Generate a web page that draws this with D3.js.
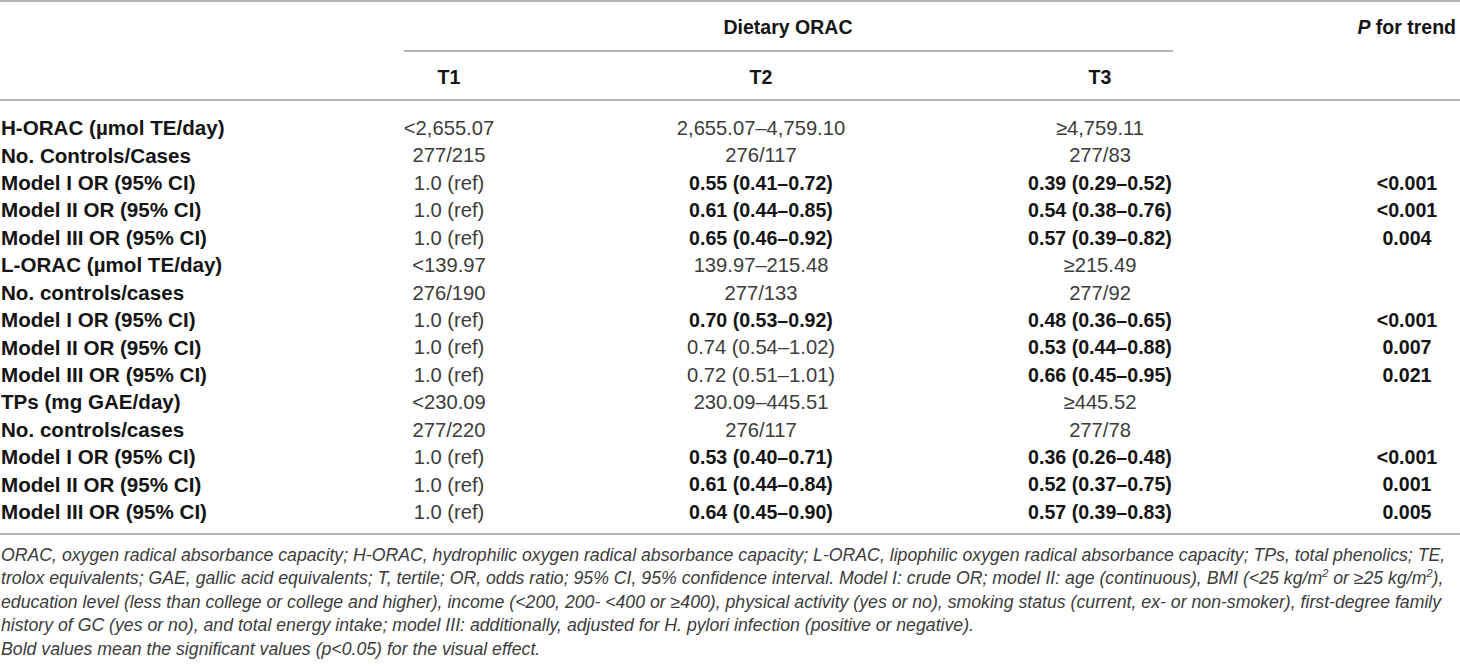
<!DOCTYPE html>
<html>
<head>
<meta charset="utf-8">
<script src="https://cdn.jsdelivr.net/npm/d3@7"></script>
<style>
  html, body { margin: 0; padding: 0; background: #fff; }
  svg text { font-family: "Liberation Sans", Arial, Helvetica, sans-serif; }
</style>
</head>
<body>
<svg id="tbl" width="1460" height="669"></svg>
<script>
// table content
var rowLabels = [
    "H-ORAC (\u00b5mol TE/day)", "No. Controls/Cases",
    "Model I OR (95% CI)", "Model II OR (95% CI)", "Model III OR (95% CI)",
    "L-ORAC (\u00b5mol TE/day)", "No. controls/cases",
    "Model I OR (95% CI)", "Model II OR (95% CI)", "Model III OR (95% CI)",
    "TPs (mg GAE/day)", "No. controls/cases",
    "Model I OR (95% CI)", "Model II OR (95% CI)", "Model III OR (95% CI)"
];
var t1Values = [
    "<2,655.07", "277/215", "1.0 (ref)", "1.0 (ref)", "1.0 (ref)",
    "<139.97", "276/190", "1.0 (ref)", "1.0 (ref)", "1.0 (ref)",
    "<230.09", "277/220", "1.0 (ref)", "1.0 (ref)", "1.0 (ref)"
];
var t2Values = [
    "2,655.07\u20134,759.10", "276/117", "0.55 (0.41\u20130.72)", "0.61 (0.44\u20130.85)", "0.65 (0.46\u20130.92)",
    "139.97\u2013215.48", "277/133", "0.70 (0.53\u20130.92)", "0.74 (0.54\u20131.02)", "0.72 (0.51\u20131.01)",
    "230.09\u2013445.51", "276/117", "0.53 (0.40\u20130.71)", "0.61 (0.44\u20130.84)", "0.64 (0.45\u20130.90)"
];
var t3Values = [
    "\u22654,759.11", "277/83", "0.39 (0.29\u20130.52)", "0.54 (0.38\u20130.76)", "0.57 (0.39\u20130.82)",
    "\u2265215.49", "277/92", "0.48 (0.36\u20130.65)", "0.53 (0.44\u20130.88)", "0.66 (0.45\u20130.95)",
    "\u2265445.52", "277/78", "0.36 (0.26\u20130.48)", "0.52 (0.37\u20130.75)", "0.57 (0.39\u20130.83)"
];
var pTrend = [
    "", "", "<0.001", "<0.001", "0.004",
    "", "", "<0.001", "0.007", "0.021",
    "", "", "<0.001", "0.001", "0.005"
];
// 1 = printed bold (significant)
var t2Bold = [0,0,1,1,1, 0,0,1,0,0, 0,0,1,1,1];
var t3Bold = [0,0,1,1,1, 0,0,1,1,1, 0,0,1,1,1];
var pBold  = [0,0,1,1,1, 0,0,1,1,1, 0,0,1,1,1];

var tertiles = ["T1", "T2", "T3"];

var footLines = [
    "ORAC, oxygen radical absorbance capacity; H-ORAC, hydrophilic oxygen radical absorbance capacity; L-ORAC, lipophilic oxygen radical absorbance capacity; TPs, total phenolics; TE,",
    "trolox equivalents; GAE, gallic acid equivalents; T, tertile; OR, odds ratio; 95% CI, 95% confidence interval. Model I: crude OR; model II: age (continuous), BMI (<25 kg/m^2 or \u226525 kg/m^2),",
    "education level (less than college or college and higher), income (<200, 200- <400 or \u2265400), physical activity (yes or no), smoking status (current, ex- or non-smoker), first-degree family",
    "history of GC (yes or no), and total energy intake; model III: additionally, adjusted for H. pylori infection (positive or negative).",
    "Bold values mean the significant values (p<0.05) for the visual effect."
];

var svg = d3.select("#tbl");
var W = 1460;
var lineColor = "#9a9a9a";
var darkText = "#141414";
var lightText = "#3c3c3c";

var y = d3.scalePoint()
    .domain(d3.range(rowLabels.length))
    .range([128, 512]);

var colX = d3.scaleOrdinal()
    .domain(["T1", "T2", "T3", "P"])
    .range([449, 761, 1100, 1407]);

var footY = d3.scalePoint()
    .domain(d3.range(footLines.length))
    .range([555, 649]);

// rules
function hline(x1, x2, yy) {
    svg.append("line")
        .attr("x1", x1).attr("x2", x2)
        .attr("y1", yy).attr("y2", yy)
        .attr("stroke", lineColor)
        .attr("stroke-width", 1.6);
}
hline(0, W, 1);
hline(404, 1173, 51);
hline(0, W, 100);
hline(0, W, 534);

// header
svg.append("text")
    .attr("x", 788).attr("y", 27)
    .attr("dy", "0.35em")
    .attr("text-anchor", "middle")
    .attr("font-size", 19.5).attr("font-weight", "bold")
    .attr("fill", darkText)
    .text("Dietary ORAC");

var pHead = svg.append("text")
    .attr("x", 1456).attr("y", 27)
    .attr("dy", "0.35em")
    .attr("text-anchor", "end")
    .attr("font-size", 19.5).attr("font-weight", "bold")
    .attr("fill", darkText);
pHead.append("tspan").attr("font-style", "italic").text("P");
pHead.append("tspan").text(" for trend");

svg.selectAll("text.thead")
    .data(tertiles)
    .join("text")
    .attr("class", "thead")
    .attr("x", function(d) { return colX(d); })
    .attr("y", 77)
    .attr("dy", "0.35em")
    .attr("text-anchor", "middle")
    .attr("font-size", 19.5).attr("font-weight", "bold")
    .attr("fill", darkText)
    .text(function(d) { return d; });

// row labels
svg.selectAll("text.rlabel")
    .data(rowLabels)
    .join("text")
    .attr("class", "rlabel")
    .attr("x", 1)
    .attr("y", function(d, i) { return y(i); })
    .attr("dy", "0.35em")
    .attr("font-size", 20.6).attr("font-weight", "bold")
    .attr("fill", darkText)
    .text(function(d) { return d; });

// body cells
function column(key, values, bold) {
    svg.selectAll("text.c" + key)
        .data(values)
        .join("text")
        .attr("class", "c" + key)
        .attr("x", colX(key))
        .attr("y", function(d, i) { return y(i); })
        .attr("dy", "0.35em")
        .attr("text-anchor", "middle")
        .attr("font-size", function(d, i) { return bold && bold[i] ? 19.6 : 20.2; })
        .attr("font-weight", function(d, i) { return bold && bold[i] ? "bold" : "normal"; })
        .attr("fill", function(d, i) { return bold && bold[i] ? darkText : lightText; })
        .text(function(d) { return d; });
}
column("T1", t1Values, null);
column("T2", t2Values, t2Bold);
column("T3", t3Values, t3Bold);
column("P", pTrend, pBold);

// footnote, "^2" marks a superscript
footLines.forEach(function(line, i) {
    var t = svg.append("text")
        .attr("x", 1)
        .attr("y", footY(i))
        .attr("dy", 5.5)
        .attr("font-size", 17.7)
        .attr("font-style", "italic")
        .attr("fill", lightText);
    line.split("^2").forEach(function(part, j) {
        if (j > 0) {
            t.append("tspan")
                .attr("font-size", 11)
                .attr("dy", -7)
                .text("2");
            t.append("tspan")
                .attr("dy", 7)
                .text(part);
        } else {
            t.append("tspan").text(part);
        }
    });
});
</script>
</body>
</html>
